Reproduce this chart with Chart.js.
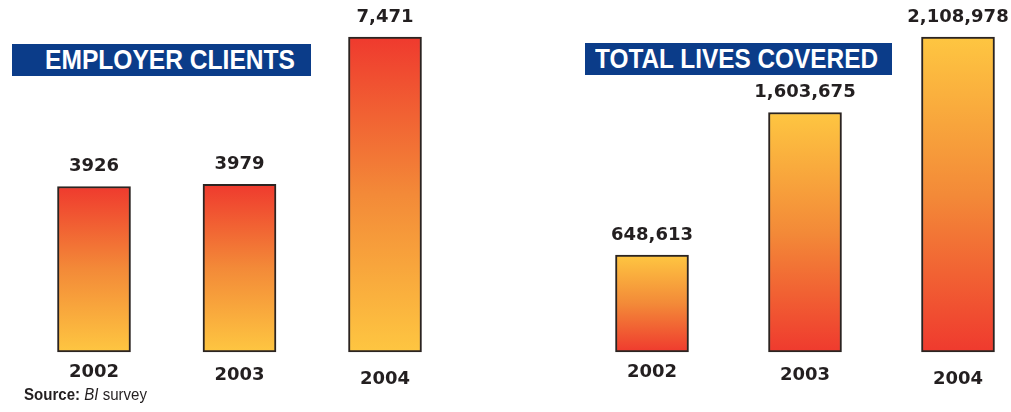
<!DOCTYPE html>
<html>
<head>
<meta charset="utf-8">
<script src="https://cdn.jsdelivr.net/npm/chart.js@4.4.1/dist/chart.umd.min.js"></script>
<style>
  html, body { margin: 0; padding: 0; background: #fff; }
  #wrap { position: relative; width: 1011px; height: 412px; overflow: hidden; }
  .panel { position: absolute; top: 0; height: 412px; }
  .title {
    position: absolute; background: #0b3c89; color: #fff; height: 32px;
    font: bold 28px "Liberation Sans", sans-serif;
    line-height: 31px; white-space: nowrap; box-sizing: border-box; overflow: hidden;
  }
  .fit { display: inline-block; transform-origin: 0 50%; }
  #source {
    position: absolute; left: 24px; top: 386px; color: #231f20;
    font: 16px "Liberation Sans", sans-serif; white-space: nowrap;
  }
  #source b { font-weight: bold; }
</style>
</head>
<body>
<div id="wrap">
  <div class="panel" style="left:0;width:480px"><canvas id="clientsChart"></canvas></div>
  <div class="panel" style="left:500px;width:511px"><canvas id="livesChart"></canvas></div>
  <div class="title" style="left:12px;top:44px;width:299px;padding-left:33px"><span class="fit" data-w="250">EMPLOYER CLIENTS</span></div>
  <div class="title" style="left:585px;top:43px;width:307px;padding-left:10px"><span class="fit" data-w="283">TOTAL LIVES COVERED</span></div>
  <div id="source"><span class="fit" data-w="123"><b>Source:</b> <i>BI</i> survey</span></div>
</div>
<script>
// data
const years = ['2002', '2003', '2004'];
const employerClients = [3926, 3979, 7471];
const employerLabels = ['3926', '3979', '7,471'];
const livesCovered = [648613, 1603675, 2108978];
const livesLabels = ['648,613', '1,603,675', '2,108,978'];

const RED = '#ef3a2e';
const ORANGE = '#f38a38';
const YELLOW = '#fec641';
const INK = '#231f20';

// staggered year labels (px below the baseline)
const yearDrop = [20, 23, 27];

// squeeze the condensed headline text to its width
document.querySelectorAll('.fit').forEach(function(el) {
  const w = el.getBoundingClientRect().width;
  el.style.transform = 'scaleX(' + (el.dataset.w / w) + ')';
});

function barGradient(redOnTop) {
  return function(ctx) {
    const chart = ctx.chart;
    if (!chart.chartArea || ctx.raw == null) return RED;
    const y = chart.scales.y;
    const top = y.getPixelForValue(ctx.raw);
    const bottom = y.getPixelForValue(0);
    const g = chart.ctx.createLinearGradient(0, top, 0, bottom);
    g.addColorStop(0, redOnTop ? RED : YELLOW);
    g.addColorStop(0.5, ORANGE);
    g.addColorStop(1, redOnTop ? YELLOW : RED);
    return g;
  };
}

const labelPlugin = {
  id: 'barLabels',
  afterDatasetsDraw(chart) {
    const ctx = chart.ctx;
    const meta = chart.getDatasetMeta(0);
    const texts = chart.options.plugins.barLabels.texts;
    const base = chart.scales.y.getPixelForValue(0);
    ctx.save();
    ctx.fillStyle = INK;
    ctx.textAlign = 'center';
    ctx.textBaseline = 'middle';
    ctx.font = 'bold 18px "DejaVu Sans", sans-serif';
    meta.data.forEach(function(bar, i) {
      ctx.fillText(texts[i], bar.x, bar.y - 20);
      ctx.fillText(chart.data.labels[i], bar.x, base + yearDrop[i]);
    });
    ctx.restore();
  }
};

function makeChart(id, values, texts, redOnTop, pad) {
  return new Chart(document.getElementById(id), {
    type: 'bar',
    data: {
      labels: years,
      datasets: [{
        data: values,
        backgroundColor: barGradient(redOnTop),
        borderColor: '#2b2421',
        borderWidth: 2,
        borderSkipped: false,
        barThickness: 73,
        clip: false
      }]
    },
    options: {
      responsive: true,
      maintainAspectRatio: false,
      animation: false,
      layout: { padding: pad },
      plugins: {
        legend: { display: false },
        tooltip: { enabled: false },
        barLabels: { texts: texts }
      },
      scales: {
        x: { display: false, offset: false },
        y: { display: false, min: 0, max: Math.max.apply(null, values) }
      }
    },
    plugins: [labelPlugin]
  });
}

makeChart('clientsChart', employerClients, employerLabels, true,
  { left: 94, right: 480 - 385, top: 37, bottom: 60 });
makeChart('livesChart', livesCovered, livesLabels, false,
  { left: 152, right: 511 - 458, top: 37, bottom: 60 });
</script>
</body>
</html>
